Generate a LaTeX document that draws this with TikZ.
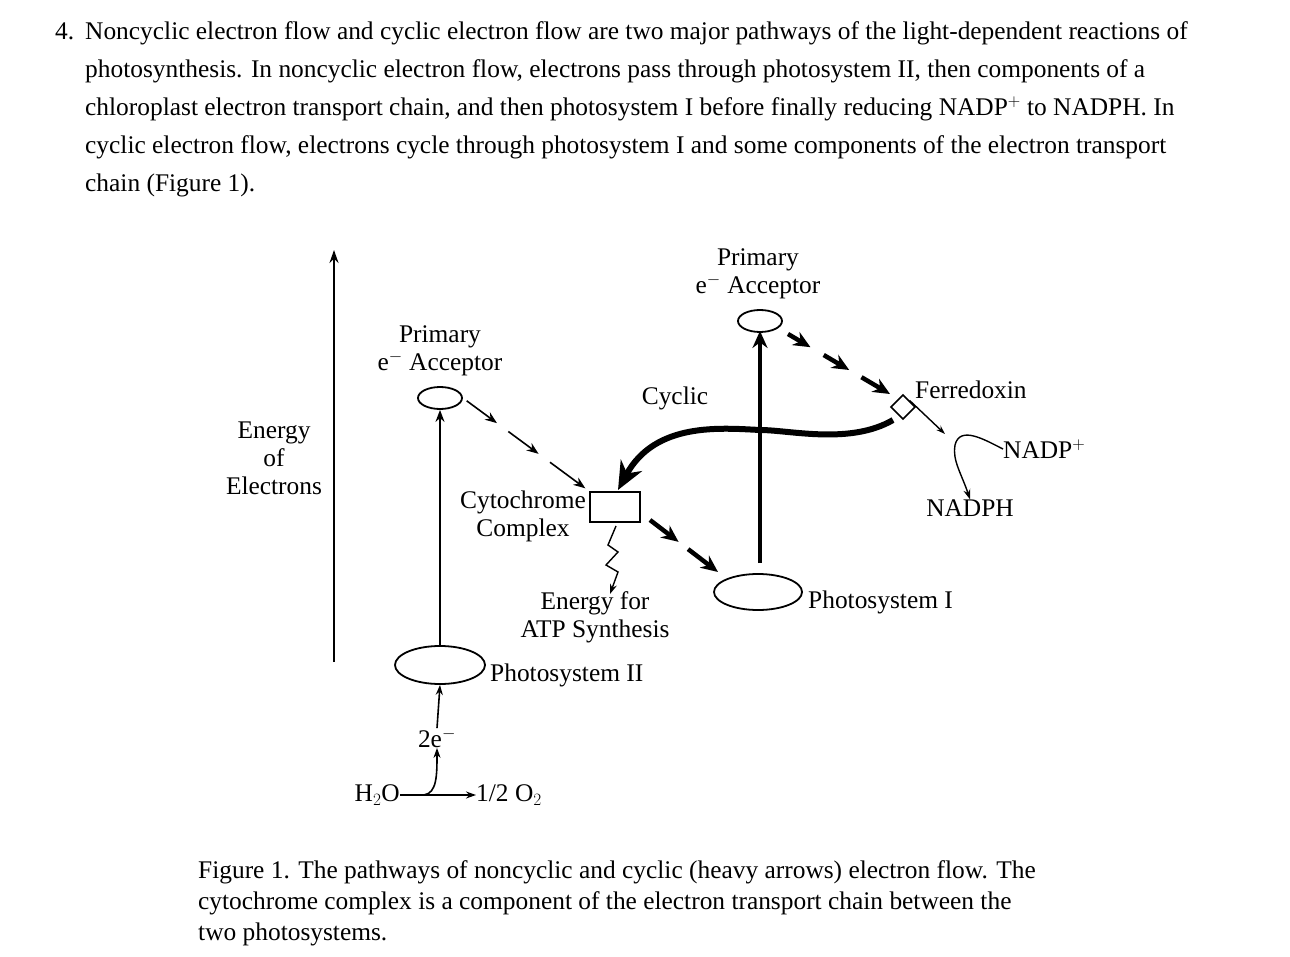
\documentclass[tikz,border=0pt]{standalone}
\usepackage{fontspec}
\setmainfont{Liberation Serif}
\usetikzlibrary{arrows.meta,calc,shapes.geometric}
\begin{document}
\begin{tikzpicture}[x=1pt,y=-1pt,
  txt/.style={font=\fontsize{25.4}{28}\selectfont,inner sep=0pt},
  lab/.style={font=\fontsize{25.4}{28}\selectfont,inner sep=0pt,align=center},
  thin/.style={line width=1.6pt,-{Stealth[length=12pt,width=9pt]}},
  heavy/.style={line width=4.5pt,-{Stealth[length=17pt,width=15pt]}},
  ell/.style={draw,ellipse,line width=1.8pt},
]
\useasboundingbox (0,0) rectangle (1290,957);
% paragraph
\node[txt,anchor=base west] (num) at (55,40) {4.};
\node[txt,anchor=base west] (p1) at (85,40) {Noncyclic electron flow and cyclic electron flow are two major pathways of the light-dependent reactions of};
\node[txt,anchor=base west] (p2) at (85,78) {photosynthesis. In noncyclic electron flow, electrons pass through photosystem II, then components of a};
\node[txt,anchor=base west] (p3) at (85,116) {chloroplast electron transport chain, and then photosystem I before finally reducing NADP$^{+}$ to NADPH. In};
\node[txt,anchor=base west] (p4) at (85,154) {cyclic electron flow, electrons cycle through photosystem I and some components of the electron transport};
\node[txt,anchor=base west] (p5) at (85,192) {chain (Figure 1).};
% energy axis
\coordinate (ax0) at (334,662);
\coordinate (ax1) at (334,250);
\draw[line width=2.2pt,-{Stealth[length=13pt,width=9pt]}] (ax0) -- (ax1);
\node[lab] (energy) at (274,458) {Energy\\of\\Electrons};
% PSII
\node[ell,minimum width=90pt,minimum height=38pt] (ps2) at (440,665) {};
\node[txt,anchor=base west] (ps2l) at (490,681) {Photosystem II};
\node[ell,minimum width=44pt,minimum height=22pt] (acc2) at (440,398) {};
\node[lab] (acc2l) at (440,351) {Primary\\e$^{-}$ Acceptor};
\draw[thin] (ps2.north) -- (acc2.south);
% water
\node[txt] (two) at (437,738) {2e$^{-}$};
\node[txt,anchor=east] (h2o) at (400,795) {H$_2$O};
\node[txt,anchor=west] (o2) at (476,795) {1/2 O$_2$};
\draw[line width=1.6pt,-{Stealth[length=10pt,width=7pt]}] (h2o.east) -- (o2.west);
\draw[line width=1.6pt,-{Stealth[length=10pt,width=7pt]}] (424,795) .. controls (437,793) and (437,775) .. (two.south);
\draw[line width=1.6pt,-{Stealth[length=10pt,width=7pt]}] (two.north) -- (ps2.south);
% cytochrome
\node[draw,line width=1.8pt,minimum width=50pt,minimum height=30pt,inner sep=0pt] (cyt) at (615,507) {};
\node[lab,anchor=east,align=center] (cytl) at (586,516) {Cytochrome\\Complex};
\foreach \a/\b in {0.03/0.27,0.36/0.6,0.69/0.97}
  \draw[thin] ($(acc2.east)!\a!(cyt.north west)$) -- ($(acc2.east)!\b!(cyt.north west)$);
% lightning
\coordinate (lt0) at (616,526);
\coordinate (lt1) at (610,594);
\draw[line width=1.4pt,-{Stealth[length=10pt,width=7pt]}] (lt0) -- (608,545) -- (618,552) -- (606,565) -- (618,572) -- (lt1);
\node[lab] (atp) at (595,617) {Energy for\\ATP Synthesis};
% PSI
\node[ell,minimum width=88pt,minimum height=36pt] (ps1) at (758,592) {};
\node[txt,anchor=base west] (ps1l) at (808,608) {Photosystem I};
\coordinate (h0) at (650,520);
\coordinate (h1) at (718,572);
\foreach \a/\b in {0/0.42,0.56/1}
  \draw[heavy] ($(h0)!\a!(h1)$) -- ($(h0)!\b!(h1)$);
\node[ell,minimum width=44pt,minimum height=22pt] (acc1) at (760,321) {};
\node[lab] (acc1l) at (758,274) {Primary\\e$^{-}$ Acceptor};
% ferredoxin
\node[draw,line width=1.6pt,rotate=45,minimum size=17pt,inner sep=0pt] (fd) at (903,407) {};
\node[txt,anchor=base west] (fdl) at (915,398) {Ferredoxin};
\coordinate (g0) at (788,334);
\coordinate (g1) at (890,394);
\foreach \a/\b in {0/0.22,0.35/0.6,0.72/1}
  \draw[heavy] ($(g0)!\a!(g1)$) -- ($(g0)!\b!(g1)$);
% cyclic
\draw[line width=6pt,-{Stealth[length=28pt,width=24pt]}] (893,420) .. controls (850,445) and (790,430) .. (760,430)
  .. controls (720,428) and (655,422) .. (618,490);
\node[txt] (cycl) at (675,398) {Cyclic};
\draw[heavy] ($(ps1.north)+(2,-10)$) -- ($(acc1.south)+(0,-2)$);
% NADP
\node[txt,anchor=west] (nadp) at (1003,449) {NADP$^{+}$};
\node[txt] (nadph) at (970,508) {NADPH};
\draw[line width=1.4pt,-{Stealth[length=9pt,width=6pt]}] (fd.east) -- (945,434);
\draw[line width=1.4pt,-{Stealth[length=10pt,width=7pt]}] (nadp.west) .. controls (985,440) and (960,425) .. (955,445) .. controls (952,460) and (962,475) .. (nadph.north);
% caption
\node[txt,anchor=base west] (c1) at (198,878) {Figure 1. The pathways of noncyclic and cyclic (heavy arrows) electron flow. The};
\node[txt,anchor=base west] (c2) at (198,909) {cytochrome complex is a component of the electron transport chain between the};
\node[txt,anchor=base west] (c3) at (198,940) {two photosystems.};
\end{tikzpicture}
\end{document}
